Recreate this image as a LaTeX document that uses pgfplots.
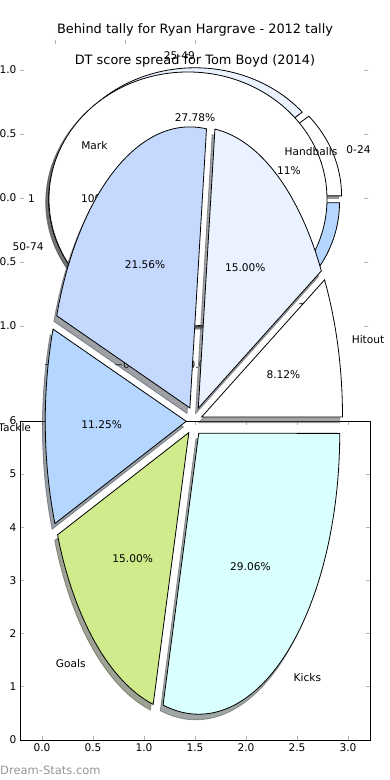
\documentclass[border=0pt]{standalone}
\usepackage{pgfplots}
\pgfplotsset{compat=1.18}
\usepackage{fontspec}
\setmainfont{DejaVu Sans}
\definecolor{cMark}{RGB}{197,217,255}
\definecolor{cHand}{RGB}{234,241,255}
\definecolor{cHit}{RGB}{255,255,255}
\definecolor{cTack}{RGB}{180,214,255}
\definecolor{cGoal}{RGB}{207,235,139}
\definecolor{cKick}{RGB}{218,255,255}
\definecolor{wm}{RGB}{150,150,150}
\tikzset{
  pielab/.style={font=\fontsize{10.6}{12.7}\selectfont, inner sep=0pt},
  ttl/.style={font=\fontsize{12.9}{15}\selectfont, inner sep=0pt, anchor=center},
}
\newcommand\buildpie[6]{%
  \gdef\pieshadows{}\gdef\piewedges{}\gdef\pietexts{}\gdef\piecum{0}%
  \foreach \ppv/\ppcol/\pplab/\pppct in {#6}{%
    \pgfmathsetmacro\ppaS{\piecum}%
    \pgfmathsetmacro\ppaE{\piecum+3.6*\ppv}%
    \pgfmathsetmacro\ppaM{(\ppaS+\ppaE)/2}%
    \pgfmathsetmacro\ppax{#1+#5*#3*cos(\ppaM)}%
    \pgfmathsetmacro\ppay{#2+#5*#4*sin(\ppaM)}%
    \pgfmathsetmacro\ppbx{\ppax+#3*cos(\ppaS)}%
    \pgfmathsetmacro\ppby{\ppay+#4*sin(\ppaS)}%
    \pgfmathsetmacro\ppsax{\ppax-0.02*#3}%
    \pgfmathsetmacro\ppsay{\ppay-0.02*#4}%
    \pgfmathsetmacro\ppsbx{\ppbx-0.02*#3}%
    \pgfmathsetmacro\ppsby{\ppby-0.02*#4}%
    \pgfmathsetmacro\pplx{\ppax+1.1*#3*cos(\ppaM)}%
    \pgfmathsetmacro\pply{\ppay+1.1*#4*sin(\ppaM)}%
    \pgfmathsetmacro\pptx{\ppax+0.6*#3*cos(\ppaM)}%
    \pgfmathsetmacro\ppty{\ppay+0.6*#4*sin(\ppaM)}%
    \pgfmathsetmacro\ppcM{cos(\ppaM)}%
    \ifdim\ppcM pt>0.001pt \def\ppanc{west}\else\def\ppanc{east}\fi
    \xdef\pieshadows{\unexpanded\expandafter{\pieshadows}%
      \noexpand\filldraw[fill=\ppcol!30!black, draw=\ppcol!30!black, opacity=0.5, line width=0.8pt]
        (axis cs:\ppsax,\ppsay) -- (axis cs:\ppsbx,\ppsby)
        arc[start angle=\ppaS, end angle=\ppaE, x radius=#3pt, y radius=#4pt] -- cycle;}%
    \xdef\piewedges{\unexpanded\expandafter{\piewedges}%
      \noexpand\filldraw[fill=\ppcol, draw=black, line width=0.8pt]
        (axis cs:\ppax,\ppay) -- (axis cs:\ppbx,\ppby)
        arc[start angle=\ppaS, end angle=\ppaE, x radius=#3pt, y radius=#4pt] -- cycle;}%
    \xdef\pietexts{\unexpanded\expandafter{\pietexts}%
      \noexpand\node[pielab, anchor=\ppanc] at (axis cs:\pplx,\pply) {\pplab};%
      \noexpand\node[pielab, anchor=center] at (axis cs:\pptx,\ppty) {\pppct};}%
    \xdef\piecum{\ppaE}%
  }%
}
\begin{document}
\begin{tikzpicture}
% ---------- Top axes (Behind tally) : ticks only
\begin{axis}[at={(20pt,424pt)}, anchor=south west, scale only axis,
  width=348pt, height=316pt,
  xmin=-1.25, xmax=1.2357, ymin=-1.234, ymax=1.234,
  axis line style={draw=none},
  xtick={-1,-0.5,0}, xticklabels={}, xtick pos=right,
  ytick={-1,-0.5,0,0.5,1}, yticklabels={−1.0,−0.5,0.0,0.5,1.0},
  tick align=inside, major tick length=4pt,
  tick style={gray!60, line width=0.8pt},
  tick label style={font=\fontsize{10.6}{12.7}\selectfont, text=black}]
\end{axis}
% ---------- Top pies (Behind tally + single white pie)
\buildpie{195}{582}{140}{124}{0.05}{11.11/white/0-24/11.11\%, 27.78/cHand/25-49/27.78\%, 33.33/cMark/50-74/33.33\%, 27.78/cTack/75-99/27.78\%}
\let\topshadows\pieshadows \let\topwedges\piewedges \let\toptexts\pietexts
\buildpie{188}{581}{139}{127}{0}{100/white/1/100.00\%}
\let\wtexts\pietexts
\begin{axis}[at={(0pt,0pt)}, anchor=south west, scale only axis,
  width=390pt, height=780pt, xmin=0, xmax=390, ymin=0, ymax=780,
  enlargelimits=false, hide axis, clip=false]
  \topshadows
  \topwedges
  \filldraw[fill=white!30!black, draw=white!30!black, opacity=0.5, line width=0.8pt]
    (axis cs:185.22,578.46) ellipse [x radius=139pt, y radius=127pt];
  \filldraw[fill=white, draw=black, line width=0.8pt]
    (axis cs:188,581) ellipse [x radius=139pt, y radius=127pt];
  \toptexts
  \wtexts
  \node[ttl] at (axis cs:195,750) {Behind tally for Ryan Hargrave - 2012 tally};
  \node[ttl] at (axis cs:195,719) {DT score spread for Tom Boyd (2014)};
  \node[pielab] at (axis cs:57,415) {−1.0};
  \node[pielab] at (axis cs:127,415) {−0.5};
  \node[pielab] at (axis cs:197,415) {0.0};
  \node[pielab] at (axis cs:267,415) {0.5};
\end{axis}
% ---------- Bottom axes
\begin{axis}[at={(20pt,40pt)}, anchor=south west, scale only axis,
  width=350pt, height=319pt,
  xmin=-0.2157, xmax=3.2157, ymin=0, ymax=6,
  axis line style={line width=0.8pt, black},
  xtick={0,0.5,1,1.5,2,2.5,3}, xticklabels={0.0,0.5,1.0,1.5,2.0,2.5,3.0},
  ytick={0,1,2,3,4,5,6}, yticklabels={0,1,2,3,4,5,6},
  tick align=inside, major tick length=4pt,
  tick style={gray!60, line width=0.8pt},
  tick label style={font=\fontsize{10.6}{12.7}\selectfont, text=black}]
\end{axis}
% ---------- Big pie (Tom Boyd)
\buildpie{194}{359}{141}{281}{0.055}{8.12/cHit/Hitout/8.12\%, 15.00/cHand/Handballs/15.00\%, 21.56/cMark/Mark/21.56\%, 11.25/cTack/Tackle/11.25\%, 15.00/cGoal/Goals/15.00\%, 29.06/cKick/Kicks/29.06\%}
\begin{axis}[at={(0pt,0pt)}, anchor=south west, scale only axis,
  width=390pt, height=780pt, xmin=0, xmax=390, ymin=0, ymax=780,
  enlargelimits=false, hide axis, clip=false]
  \pieshadows
  \piewedges
  \pietexts
  \node[anchor=west, inner sep=0pt, text=wm, font=\fontsize{11.5}{13}\selectfont] at (axis cs:0,10) {Dream-Stats.com};
\end{axis}
\pgfresetboundingbox
\path[use as bounding box] (0,0) rectangle (390pt,780pt);
\end{tikzpicture}
\end{document}
